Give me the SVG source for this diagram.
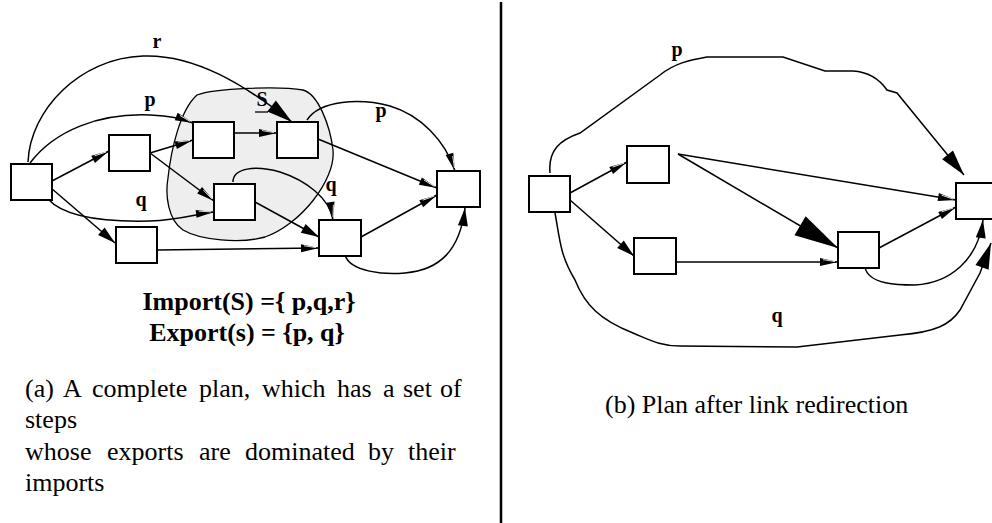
<svg xmlns="http://www.w3.org/2000/svg" width="992" height="523" viewBox="0 0 992 523">
<style>
.n{fill:#fff;stroke:#000;stroke-width:2}
.e{fill:none;stroke:#000;stroke-width:1.5}
.lbl{font-family:"Liberation Serif",serif;font-weight:bold;font-size:20px;fill:#000;text-anchor:middle}
.eq{font-family:"Liberation Serif",serif;font-weight:bold;font-size:26px;fill:#000;text-anchor:middle}
.cap{font-family:"Liberation Serif",serif;font-size:26px;fill:#000}
</style>
<defs>
<marker id="sm" markerUnits="userSpaceOnUse" markerWidth="20" markerHeight="10" refX="18" refY="4" orient="auto" overflow="visible">
<path d="M0,0 L18,4 L0,8 Z" fill="#000"/>
<path d="M3,1.6 L15,3.6" stroke="#fff" stroke-width="0.8"/>
</marker>
<marker id="smf" markerUnits="userSpaceOnUse" markerWidth="20" markerHeight="12" refX="18" refY="5" orient="auto" overflow="visible">
<path d="M0,0 L18,5 L0,10 Z" fill="#000"/>
</marker>
<marker id="lg" markerUnits="userSpaceOnUse" markerWidth="28" markerHeight="14" refX="26" refY="7" orient="auto" overflow="visible">
<path d="M0,0 L26,7 L0,14 Z" fill="#000"/>
</marker>
<marker id="xl" markerUnits="userSpaceOnUse" markerWidth="46" markerHeight="22" refX="44" refY="11" orient="auto" overflow="visible">
<path d="M0,0 L44,11 L0,22 Z" fill="#000"/>
</marker>
</defs>

<rect width="992" height="523" fill="#fff"/>

<!-- shaded region S -->
<path id="regionS" d="M197,95 C215,88 280,86 303,90 C318,94 330,125 333,150 C336,180 300,225 265,237 C240,244 200,240 183,230 C168,220 165,195 168,178 C171,150 180,110 197,95 Z" fill="#eeeeee" stroke="#000" stroke-width="1.3"/>

<!-- divider -->
<line x1="501" y1="2" x2="501" y2="523" stroke="#000" stroke-width="2.5"/>

<g id="connectors">
<!-- panel (a) -->
<line class="e" x1="52" y1="181" x2="109" y2="151" marker-end="url(#sm)"/>
<line class="e" x1="51" y1="188" x2="115" y2="243" marker-end="url(#smf)"/>
<line class="e" x1="150" y1="153" x2="193" y2="140" marker-end="url(#sm)"/>
<line class="e" x1="150" y1="153" x2="214" y2="201" marker-end="url(#sm)"/>
<line class="e" x1="234" y1="133" x2="277" y2="133" marker-end="url(#sm)"/>
<line class="e" x1="318" y1="139" x2="437" y2="188" marker-end="url(#sm)"/>
<line class="e" x1="255" y1="202" x2="319" y2="237" marker-end="url(#smf)"/>
<line class="e" x1="157" y1="250" x2="319" y2="248" marker-end="url(#sm)"/>
<line class="e" x1="361" y1="237" x2="437" y2="195" marker-end="url(#sm)"/>
<path class="e" d="M28,162 C30,110 80,58 143,56 C195,54 245,85 292,122" marker-end="url(#lg)"/>
<path class="e" d="M30,163 C55,130 100,113 150,115 C170,116 180,118 193,123" marker-end="url(#sm)"/>
<path class="e" d="M48,199 C65,218 110,222 150,221 C180,220 195,214 214,212" marker-end="url(#sm)"/>
<path class="e" d="M307,120 C320,100 360,98 390,106 C420,115 445,140 455,171" marker-end="url(#sm)"/>
<path class="e" d="M233,182 C233,168 255,165 280,172 C305,180 330,198 333,220" marker-end="url(#sm)"/>
<path class="e" d="M345,255 C350,272 385,275 405,273 C440,270 460,250 465,208" marker-end="url(#smf)"/>
<!-- panel (b) -->
<line class="e" x1="570" y1="193" x2="627" y2="162" marker-end="url(#sm)"/>
<line class="e" x1="570" y1="200" x2="634" y2="256" marker-end="url(#smf)"/>
<line class="e" x1="678" y1="154" x2="956" y2="200" marker-end="url(#sm)"/>
<line class="e" x1="678" y1="154" x2="838" y2="248" marker-end="url(#xl)"/>
<line class="e" x1="676" y1="262" x2="838" y2="262" marker-end="url(#sm)"/>
<line class="e" x1="879" y1="248" x2="956" y2="207" marker-end="url(#sm)"/>
<path class="e" d="M865,267 C868,285 900,285 915,285 C950,283 978,260 983,220" marker-end="url(#smf)"/>
<path class="e" d="M550,173 C548,150 560,140 580,133 L660,75 C675,63 690,60 707,57 L783,57 L825,71 L853,71 C870,72 880,80 887,90 L897,93 L964,175" marker-end="url(#lg)"/>
<path class="e" d="M555,213 C560,240 560,255 575,280 C585,305 600,320 633,333 C650,340 660,346 680,346 L797,347 L900,335 C935,332 950,325 960,310 L980,273 L991,243" marker-end="url(#lg)"/>
</g>

<g id="a1"><rect class="n" x="11" y="164" width="41" height="36"/></g>
<g id="a2"><rect class="n" x="109" y="135" width="41" height="36"/></g>
<g id="a3"><rect class="n" x="193" y="122" width="41" height="36"/></g>
<g id="a4"><rect class="n" x="277" y="122" width="41" height="36"/></g>
<g id="a5"><rect class="n" x="214" y="184" width="41" height="36"/></g>
<g id="a6"><rect class="n" x="116" y="227" width="41" height="36"/></g>
<g id="a7"><rect class="n" x="319" y="220" width="42" height="36"/></g>
<g id="a8"><rect class="n" x="437" y="171" width="43" height="36"/></g>

<g id="b1"><rect class="n" x="529" y="176" width="41" height="36"/></g>
<g id="b2"><rect class="n" x="627" y="146" width="42" height="37"/></g>
<g id="b3"><rect class="n" x="634" y="238" width="42" height="36"/></g>
<g id="b4"><rect class="n" x="838" y="232" width="41" height="36"/></g>
<g id="b5"><rect class="n" x="956" y="183" width="42" height="36"/></g>

<g id="labels">
<text class="lbl" x="157" y="48">r</text>
<text class="lbl" x="150" y="106">p</text>
<text class="lbl" x="262" y="106">S</text>
<line x1="255" y1="112" x2="268" y2="112" stroke="#000" stroke-width="1.3"/>
<text class="lbl" x="381" y="117">p</text>
<text class="lbl" x="141" y="206">q</text>
<text class="lbl" x="331" y="191">q</text>
<text class="lbl" x="677" y="56">p</text>
<text class="lbl" x="777" y="322">q</text>
</g>

<g id="sets">
<text class="eq" x="249" y="310">Import(S) ={ p,q,r}</text>
<text class="eq" x="247" y="341">Export(s) = {p, q}</text>
</g>

<g id="captionA" class="cap">
<text y="397"><tspan x="25">(a)</tspan><tspan x="63">A</tspan><tspan x="92">complete</tspan><tspan x="199">plan,</tspan><tspan x="262">which</tspan><tspan x="337">has</tspan><tspan x="383">a</tspan><tspan x="403">set</tspan><tspan x="440">of</tspan></text>
<text x="25" y="428">steps</text>
<text y="460"><tspan x="25">whose</tspan><tspan x="107">exports</tspan><tspan x="199">are</tspan><tspan x="245">dominated</tspan><tspan x="368">by</tspan><tspan x="408">their</tspan></text>
<text x="25" y="491">imports</text>
</g>

<g id="captionB">
<text class="cap" x="605" y="413">(b) Plan after link redirection</text>
</g>
</svg>
